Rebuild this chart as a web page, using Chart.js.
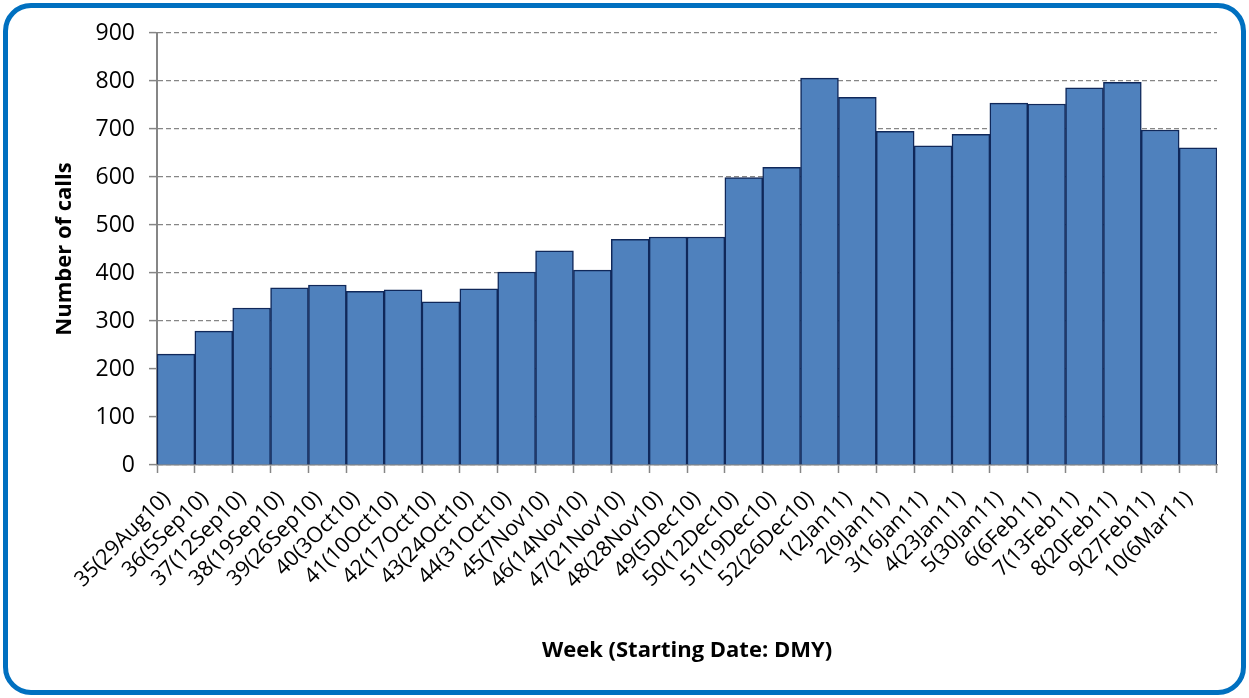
<!DOCTYPE html>
<html>
<head>
<meta charset="utf-8">
<script src="https://cdn.jsdelivr.net/npm/chart.js@4"></script>
<style>
  body { margin: 0; background: #fff; }
  #wrap { position: relative; width: 1249px; height: 698px; }
  #frame {
    position: absolute; left: 3px; top: 3px; width: 1243px; height: 692px;
    box-sizing: border-box; border: 5px solid #0070C0; border-radius: 28px;
    pointer-events: none;
  }
</style>
</head>
<body>
<div id="wrap">
  <canvas id="calls-chart" width="1249" height="698"></canvas>
  <div id="frame"></div>
</div>
<script>
// Weeks (starting date, DMY)
const weeks = ['35(29Aug10)', '36(5Sep10)', '37(12Sep10)', '38(19Sep10)', '39(26Sep10)',
  '40(3Oct10)', '41(10Oct10)', '42(17Oct10)', '43(24Oct10)', '44(31Oct10)', '45(7Nov10)',
  '46(14Nov10)', '47(21Nov10)', '48(28Nov10)', '49(5Dec10)', '50(12Dec10)', '51(19Dec10)',
  '52(26Dec10)', '1(2Jan11)', '2(9Jan11)', '3(16Jan11)', '4(23Jan11)', '5(30Jan11)',
  '6(6Feb11)', '7(13Feb11)', '8(20Feb11)', '9(27Feb11)', '10(6Mar11)'];

// Number of calls per week
const calls = [231, 279, 327, 369, 375, 362, 365, 340, 367, 402, 446,
  406, 470, 475, 475, 599, 620, 806, 766, 695, 665, 689, 754,
  752, 786, 797, 698, 661];

const yTicks = { min: 0, max: 900, step: 100 };

const ctx = document.getElementById('calls-chart');

const callsChart = new Chart(ctx, {
  type: 'bar',
  data: {
    labels: weeks,
    datasets: [{
      label: 'Number of calls',
      data: calls,
      backgroundColor: '#4F81BD',
      borderColor: '#10285A',
      borderWidth: 1.5,
      barPercentage: 1,
      categoryPercentage: 1
    }]
  },
  options: {
    responsive: false,
    animation: false,
    layout: { padding: { left: 50, right: 32, top: 33, bottom: 28 } },
    plugins: {
      legend: { display: false },
      tooltip: { enabled: false }
    },
    scales: {
      x: {
        offset: true,
        grid: {
          offset: true,
          drawOnChartArea: false,
          tickLength: 8,
          tickColor: '#868686',
          tickWidth: 1.5
        },
        border: { color: '#868686', width: 1.5 },
        ticks: {
          autoSkip: false,
          minRotation: 45,
          maxRotation: 45,
          padding: 13,
          labelOffset: -9,
          color: '#000',
          font: { family: 'Open Sans', size: 21.5 }
        },
        title: {
          display: true,
          text: 'Week (Starting Date: DMY)',
          color: '#000',
          font: { family: 'Open Sans', size: 22, weight: 'bold' },
          padding: { top: 4, bottom: 6 }
        },
        afterFit: (scale) => { scale.height = 205; }
      },
      y: {
        min: yTicks.min,
        max: yTicks.max,
        ticks: {
          stepSize: yTicks.step,
          padding: 14,
          color: '#000',
          font: { family: 'Open Sans', size: 23 }
        },
        grid: {
          color: '#868686',
          lineWidth: 1.2,
          tickLength: 8,
          tickColor: '#868686',
          tickWidth: 1.5,
          tickBorderDash: []
        },
        border: { color: '#868686', width: 2, dash: [5, 3] },
        title: {
          display: true,
          text: 'Number of calls',
          color: '#000',
          font: { family: 'Open Sans', size: 22, weight: 'bold' },
          padding: { top: 2, bottom: 4 }
        },
        afterFit: (scale) => { scale.width = 107; }
      }
    }
  }
});
</script>
</body>
</html>
